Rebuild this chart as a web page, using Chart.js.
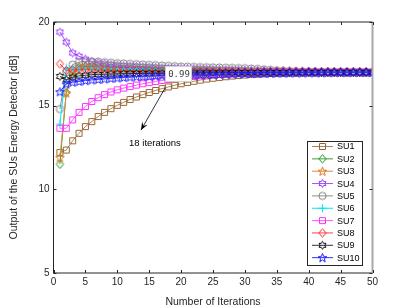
<!DOCTYPE html>
<html><head><meta charset="utf-8">
<script src="https://cdn.jsdelivr.net/npm/chart.js@4.4.0/dist/chart.umd.min.js"></script>
<style>html,body{margin:0;padding:0;background:#fff;}canvas{display:block}</style>
</head><body>
<div style="width:411px;height:308px"><canvas id="c" width="411" height="308"></canvas></div>
<script>
const iterations = [1,2,3,4,5,6,7,8,9,10,11,12,13,14,15,16,17,18,19,20,21,22,23,24,25,26,27,28,29,30,31,32,33,34,35,36,37,38,39,40,41,42,43,44,45,46,47,48,49,50];
const su1 = [12.2,12.35,12.9,13.35,13.75,14.05,14.35,14.6,14.82,15.02, 15.2,15.37,15.52,15.66,15.79,15.91,16.02,16.12,16.22,16.31, 16.39,16.46,16.53,16.59,16.64,16.69,16.73,16.77,16.8,16.83, 16.86,16.88,16.9,16.92,16.93,16.94,16.95,16.96,16.97,16.98, 16.98,16.99,16.99,16.99,17.0,17.0,17.0,17.0,17.0,17.0];
const su2 = [11.5,15.8,16.9,17.3,17.35,17.35,17.32,17.3,17.28,17.26, 17.24,17.22,17.2,17.18,17.16,17.14,17.13,17.12,17.11,17.1, 17.09,17.08,17.07,17.06,17.05,17.05,17.04,17.04,17.03,17.03, 17.03,17.02,17.02,17.02,17.02,17.01,17.01,17.01,17.01,17.01, 17.0,17.0,17.0,17.0,17.0,17.0,17.0,17.0,17.0,17.0];
const su3 = [11.9,15.75,17.0,17.35,17.4,17.4,17.37,17.34,17.31,17.28, 17.26,17.24,17.22,17.2,17.18,17.16,17.15,17.14,17.13,17.12, 17.11,17.1,17.09,17.08,17.07,17.06,17.05,17.05,17.04,17.04, 17.03,17.03,17.03,17.02,17.02,17.02,17.01,17.01,17.01,17.01, 17.0,17.0,17.0,17.0,17.0,17.0,17.0,17.0,17.0,17.0];
const su4 = [19.4,18.8,18.15,17.95,17.78,17.63,17.56,17.5,17.46,17.42, 17.39,17.37,17.35,17.33,17.31,17.29,17.27,17.25,17.24,17.23, 17.22,17.21,17.2,17.19,17.18,17.17,17.16,17.15,17.14,17.13, 17.12,17.11,17.1,17.09,17.08,17.08,17.07,17.06,17.06,17.05, 17.05,17.04,17.04,17.03,17.03,17.03,17.02,17.02,17.02,17.01];
const su5 = [14.8,17.0,17.45,17.6,17.65,17.65,17.63,17.6,17.57,17.54, 17.52,17.5,17.48,17.46,17.44,17.42,17.4,17.38,17.36,17.34, 17.33,17.32,17.31,17.3,17.29,17.28,17.27,17.26,17.25,17.24, 17.22,17.2,17.17,17.14,17.11,17.09,17.07,17.06,17.05,17.04, 17.04,17.03,17.03,17.03,17.02,17.02,17.02,17.02,17.01,17.01];
const su6 = [13.9,17.25,17.25,17.25,17.25,17.24,17.24,17.23,17.23,17.22, 17.21,17.2,17.19,17.18,17.17,17.16,17.15,17.14,17.13,17.12, 17.11,17.1,17.09,17.08,17.07,17.06,17.06,17.05,17.05,17.04, 17.04,17.03,17.03,17.03,17.02,17.02,17.02,17.02,17.01,17.01, 17.01,17.01,17.01,17.0,17.0,17.0,17.0,17.0,17.0,17.0];
const su7 = [13.65,13.65,14.15,14.6,14.95,15.25,15.48,15.66,15.82,15.95, 16.05,16.14,16.23,16.31,16.38,16.45,16.51,16.57,16.62,16.67, 16.71,16.75,16.79,16.82,16.85,16.87,16.89,16.91,16.93,16.94, 16.95,16.96,16.97,16.98,16.98,16.99,16.99,17.0,17.0,17.0, 17.0,17.0,17.0,17.0,17.0,17.0,17.0,17.0,17.0,17.0];
const su8 = [17.5,17.1,17.15,17.15,17.14,17.14,17.13,17.13,17.12,17.12, 17.11,17.11,17.1,17.1,17.09,17.09,17.08,17.08,17.07,17.07, 17.06,17.06,17.05,17.05,17.05,17.04,17.04,17.04,17.03,17.03, 17.03,17.03,17.02,17.02,17.02,17.02,17.01,17.01,17.01,17.01, 17.0,17.0,17.0,17.0,17.0,17.0,17.0,17.0,17.0,17.0];
const su9 = [16.75,16.55,16.7,16.78,16.82,16.85,16.87,16.88,16.89,16.9, 16.91,16.92,16.92,16.93,16.93,16.94,16.94,16.95,16.95,16.95, 16.96,16.96,16.96,16.97,16.97,16.97,16.97,16.98,16.98,16.98, 16.98,16.98,16.99,16.99,16.99,16.99,16.99,16.99,16.99,17.0, 17.0,17.0,17.0,17.0,17.0,17.0,17.0,17.0,17.0,17.0];
const su10 = [15.83,16.3,16.4,16.45,16.5,16.54,16.57,16.6,16.63,16.66, 16.69,16.71,16.73,16.75,16.77,16.78,16.79,16.8,16.81,16.82, 16.83,16.84,16.85,16.86,16.87,16.88,16.89,16.9,16.91,16.92, 16.93,16.93,16.94,16.94,16.95,16.95,16.96,16.96,16.96,16.97, 16.97,16.97,16.98,16.98,16.98,16.98,16.99,16.99,16.99,16.99];
const seriesNames = ['SU1','SU2','SU3','SU4','SU5','SU6','SU7','SU8','SU9','SU10'];
const xTicks = [0,5,10,15,20,25,30,35,40,45,50];
const yTicks = [5,10,15,20];
const xTitle = 'Number of Iterations';
const yTitle = 'Output of the SUs Energy Detector [dB]';
const tipText = '0.99';
const noteText = '18 iterations';

const seriesValues = [su1,su2,su3,su4,su5,su6,su7,su8,su9,su10];
const seriesColors = ['#996633','#1a8c1a','#e07820','#9933ff','#808080','#00e5ff','#ff33ff','#ff2020','#111111','#1a1aff'];
const lineColors   = ['#a8845c','#3c9c3c','#e08a40','#a050ff','#8c8c8c','#00e5ff','#ff55ff','#ff4040','#333333','#3333ff'];
const markerKinds = ['square','diamond','pentagram','hexagram','circle','plus','square','diamond','hexagram','pentagram'];

function starPath(g, cx, cy, n, R, r) {
  for (let k = 0; k < 2*n; k++) {
    const rad = (k % 2 === 0) ? R : r;
    const a = -Math.PI/2 + k*Math.PI/n;
    const x = cx + rad*Math.cos(a), y = cy + rad*Math.sin(a);
    if (k === 0) g.moveTo(x, y); else g.lineTo(x, y);
  }
  g.closePath();
}
function makeMarker(kind, color) {
  const s = 13, m = 6.5;
  const c = document.createElement('canvas'); c.width = s; c.height = s;
  const g = c.getContext('2d');
  g.strokeStyle = color; g.lineWidth = 1;
  g.beginPath();
  if (kind === 'square') g.rect(3.5, 3.5, 6, 6);
  else if (kind === 'diamond') { g.moveTo(m, m-4.2); g.lineTo(m+3.6, m); g.lineTo(m, m+4.2); g.lineTo(m-3.6, m); g.closePath(); }
  else if (kind === 'circle') g.arc(m, m, 3.6, 0, Math.PI*2);
  else if (kind === 'pentagram') starPath(g, m, m+0.4, 5, 4.6, 1.9);
  else if (kind === 'hexagram') starPath(g, m, m, 6, 4.0, 2.3);
  else if (kind === 'plus') { g.moveTo(m-4, m); g.lineTo(m+4, m); g.moveTo(m, m-4); g.lineTo(m, m+4); }
  g.stroke();
  return c;
}
const markers = markerKinds.map((k, i) => makeMarker(k, seriesColors[i]));

const datasets = seriesNames.map((name, i) => ({
  label: name,
  data: iterations.map((x, j) => ({x: x, y: seriesValues[i][j]})),
  borderColor: lineColors[i],
  backgroundColor: 'transparent',
  borderWidth: 1,
  pointStyle: markers[i],
  pointRadius: 4,
  pointHoverRadius: 4,
  fill: false,
  tension: 0,
  order: 10 - i
}));

const axisColor = '#262626';
const decor = {
  id: 'decor',
  afterDraw(chart) {
    const ctx = chart.ctx, a = chart.chartArea;
    const xs = chart.scales.x, ys = chart.scales.y;
    ctx.save();
    ctx.lineWidth = 1;
    ctx.strokeStyle = axisColor;
    ctx.beginPath();
    ctx.moveTo(a.left, a.top); ctx.lineTo(a.left, a.bottom); ctx.lineTo(a.right, a.bottom);
    ctx.moveTo(a.left, a.top); ctx.lineTo(a.right, a.top);
    ctx.stroke();
    ctx.strokeStyle = '#a8a8a8'; ctx.lineWidth = 2;
    ctx.beginPath(); ctx.moveTo(a.right, a.top); ctx.lineTo(a.right, a.bottom); ctx.stroke();
    ctx.strokeStyle = axisColor; ctx.lineWidth = 1;
    ctx.beginPath();
    xTicks.forEach(v => { const p = Math.round(xs.getPixelForValue(v)) + 0.5;
      ctx.moveTo(p, a.bottom); ctx.lineTo(p, a.bottom - 3);
      ctx.moveTo(p, a.top); ctx.lineTo(p, a.top + 3); });
    yTicks.forEach(v => { const p = Math.round(ys.getPixelForValue(v)) + 0.5;
      ctx.moveTo(a.left, p); ctx.lineTo(a.left + 3, p);
      ctx.moveTo(a.right, p); ctx.lineTo(a.right - 3, p); });
    ctx.stroke();

    const bx = xs.getPixelForValue(17.5), by = ys.getPixelForValue(17.37);
    ctx.fillStyle = '#ffffff'; ctx.fillRect(bx, by, 26, 15);
    ctx.strokeStyle = '#d0d0d0'; ctx.lineWidth = 1; ctx.strokeRect(Math.round(bx)+0.5, Math.round(by)+0.5, 26, 15);
    ctx.fillStyle = '#404040'; ctx.font = '9px "DejaVu Sans Mono"'; ctx.textAlign = 'left'; ctx.textBaseline = 'middle';
    ctx.fillText(tipText, bx + 3, by + 8.5);

    const x1 = xs.getPixelForValue(17.48), y1 = ys.getPixelForValue(16.05);
    const x2 = xs.getPixelForValue(13.71), y2 = ys.getPixelForValue(13.54);
    ctx.strokeStyle = '#000'; ctx.lineWidth = 0.8;
    ctx.beginPath(); ctx.moveTo(x1, y1); ctx.lineTo(x2, y2); ctx.stroke();
    const ang = Math.atan2(y2 - y1, x2 - x1), L = 8, W = 3.2;
    ctx.fillStyle = '#000';
    ctx.beginPath();
    ctx.moveTo(x2, y2);
    ctx.lineTo(x2 - L*Math.cos(ang) + W*Math.sin(ang), y2 - L*Math.sin(ang) - W*Math.cos(ang));
    ctx.lineTo(x2 - 0.6*L*Math.cos(ang), y2 - 0.6*L*Math.sin(ang));
    ctx.lineTo(x2 - L*Math.cos(ang) - W*Math.sin(ang), y2 - L*Math.sin(ang) + W*Math.cos(ang));
    ctx.closePath(); ctx.fill();
    ctx.font = '9.5px "Liberation Sans", Arial, sans-serif'; ctx.textAlign = 'center'; ctx.textBaseline = 'middle';
    ctx.fillStyle = '#000';
    ctx.fillText(noteText, xs.getPixelForValue(15.9), ys.getPixelForValue(12.77));

    const lx = 307.5, ly = 141.5, lw = 55, lh = 124;
    ctx.fillStyle = '#fff'; ctx.fillRect(lx, ly, lw, lh);
    ctx.strokeStyle = axisColor; ctx.lineWidth = 1; ctx.strokeRect(lx, ly, lw, lh);
    ctx.font = '9px "Liberation Sans", Arial, sans-serif'; ctx.textAlign = 'left'; ctx.textBaseline = 'middle';
    seriesNames.forEach((name, i) => {
      const y = 146.5 + i * 12.35;
      ctx.strokeStyle = lineColors[i]; ctx.lineWidth = 1;
      ctx.beginPath(); ctx.moveTo(312, y); ctx.lineTo(333, y); ctx.stroke();
      ctx.drawImage(markers[i], 322.5 - 6.5, y - 6.5);
      ctx.fillStyle = '#000';
      ctx.fillText(name, 337, y + 0.5);
    });
    ctx.restore();
  }
};

new Chart(document.getElementById('c'), {
  type: 'line',
  data: { datasets },
  options: {
    responsive: false, animation: false, devicePixelRatio: 1,
    layout: { padding: { top: 22, right: 38.5, left: 0, bottom: 0 } },
    plugins: { legend: { display: false }, tooltip: { enabled: false } },
    scales: {
      x: {
        type: 'linear', min: 0, max: 50,
        afterFit(s) { s.height = 35; },
        afterBuildTicks(s) { s.ticks = xTicks.map(v => ({ value: v })); },
        grid: { display: false, drawTicks: false },
        border: { display: false },
        ticks: { color: axisColor, font: { family: '"Liberation Sans", Arial, sans-serif', size: 10 }, padding: 3, maxRotation: 0 },
        title: { display: true, text: xTitle, color: axisColor, font: { family: '"Liberation Sans", Arial, sans-serif', size: 10.5 }, padding: { top: 4, bottom: 0 } }
      },
      y: {
        type: 'linear', min: 5, max: 20,
        afterFit(s) { s.width = 53.5; },
        afterBuildTicks(s) { s.ticks = yTicks.map(v => ({ value: v })); },
        grid: { display: false, drawTicks: false },
        border: { display: false },
        ticks: { color: axisColor, font: { family: '"Liberation Sans", Arial, sans-serif', size: 10 }, padding: 4 },
        title: { display: true, text: yTitle, color: axisColor, font: { family: '"Liberation Sans", Arial, sans-serif', size: 10.5 }, padding: { top: 8, bottom: 0 } }
      }
    }
  },
  plugins: [decor]
});
</script>
</body></html>
